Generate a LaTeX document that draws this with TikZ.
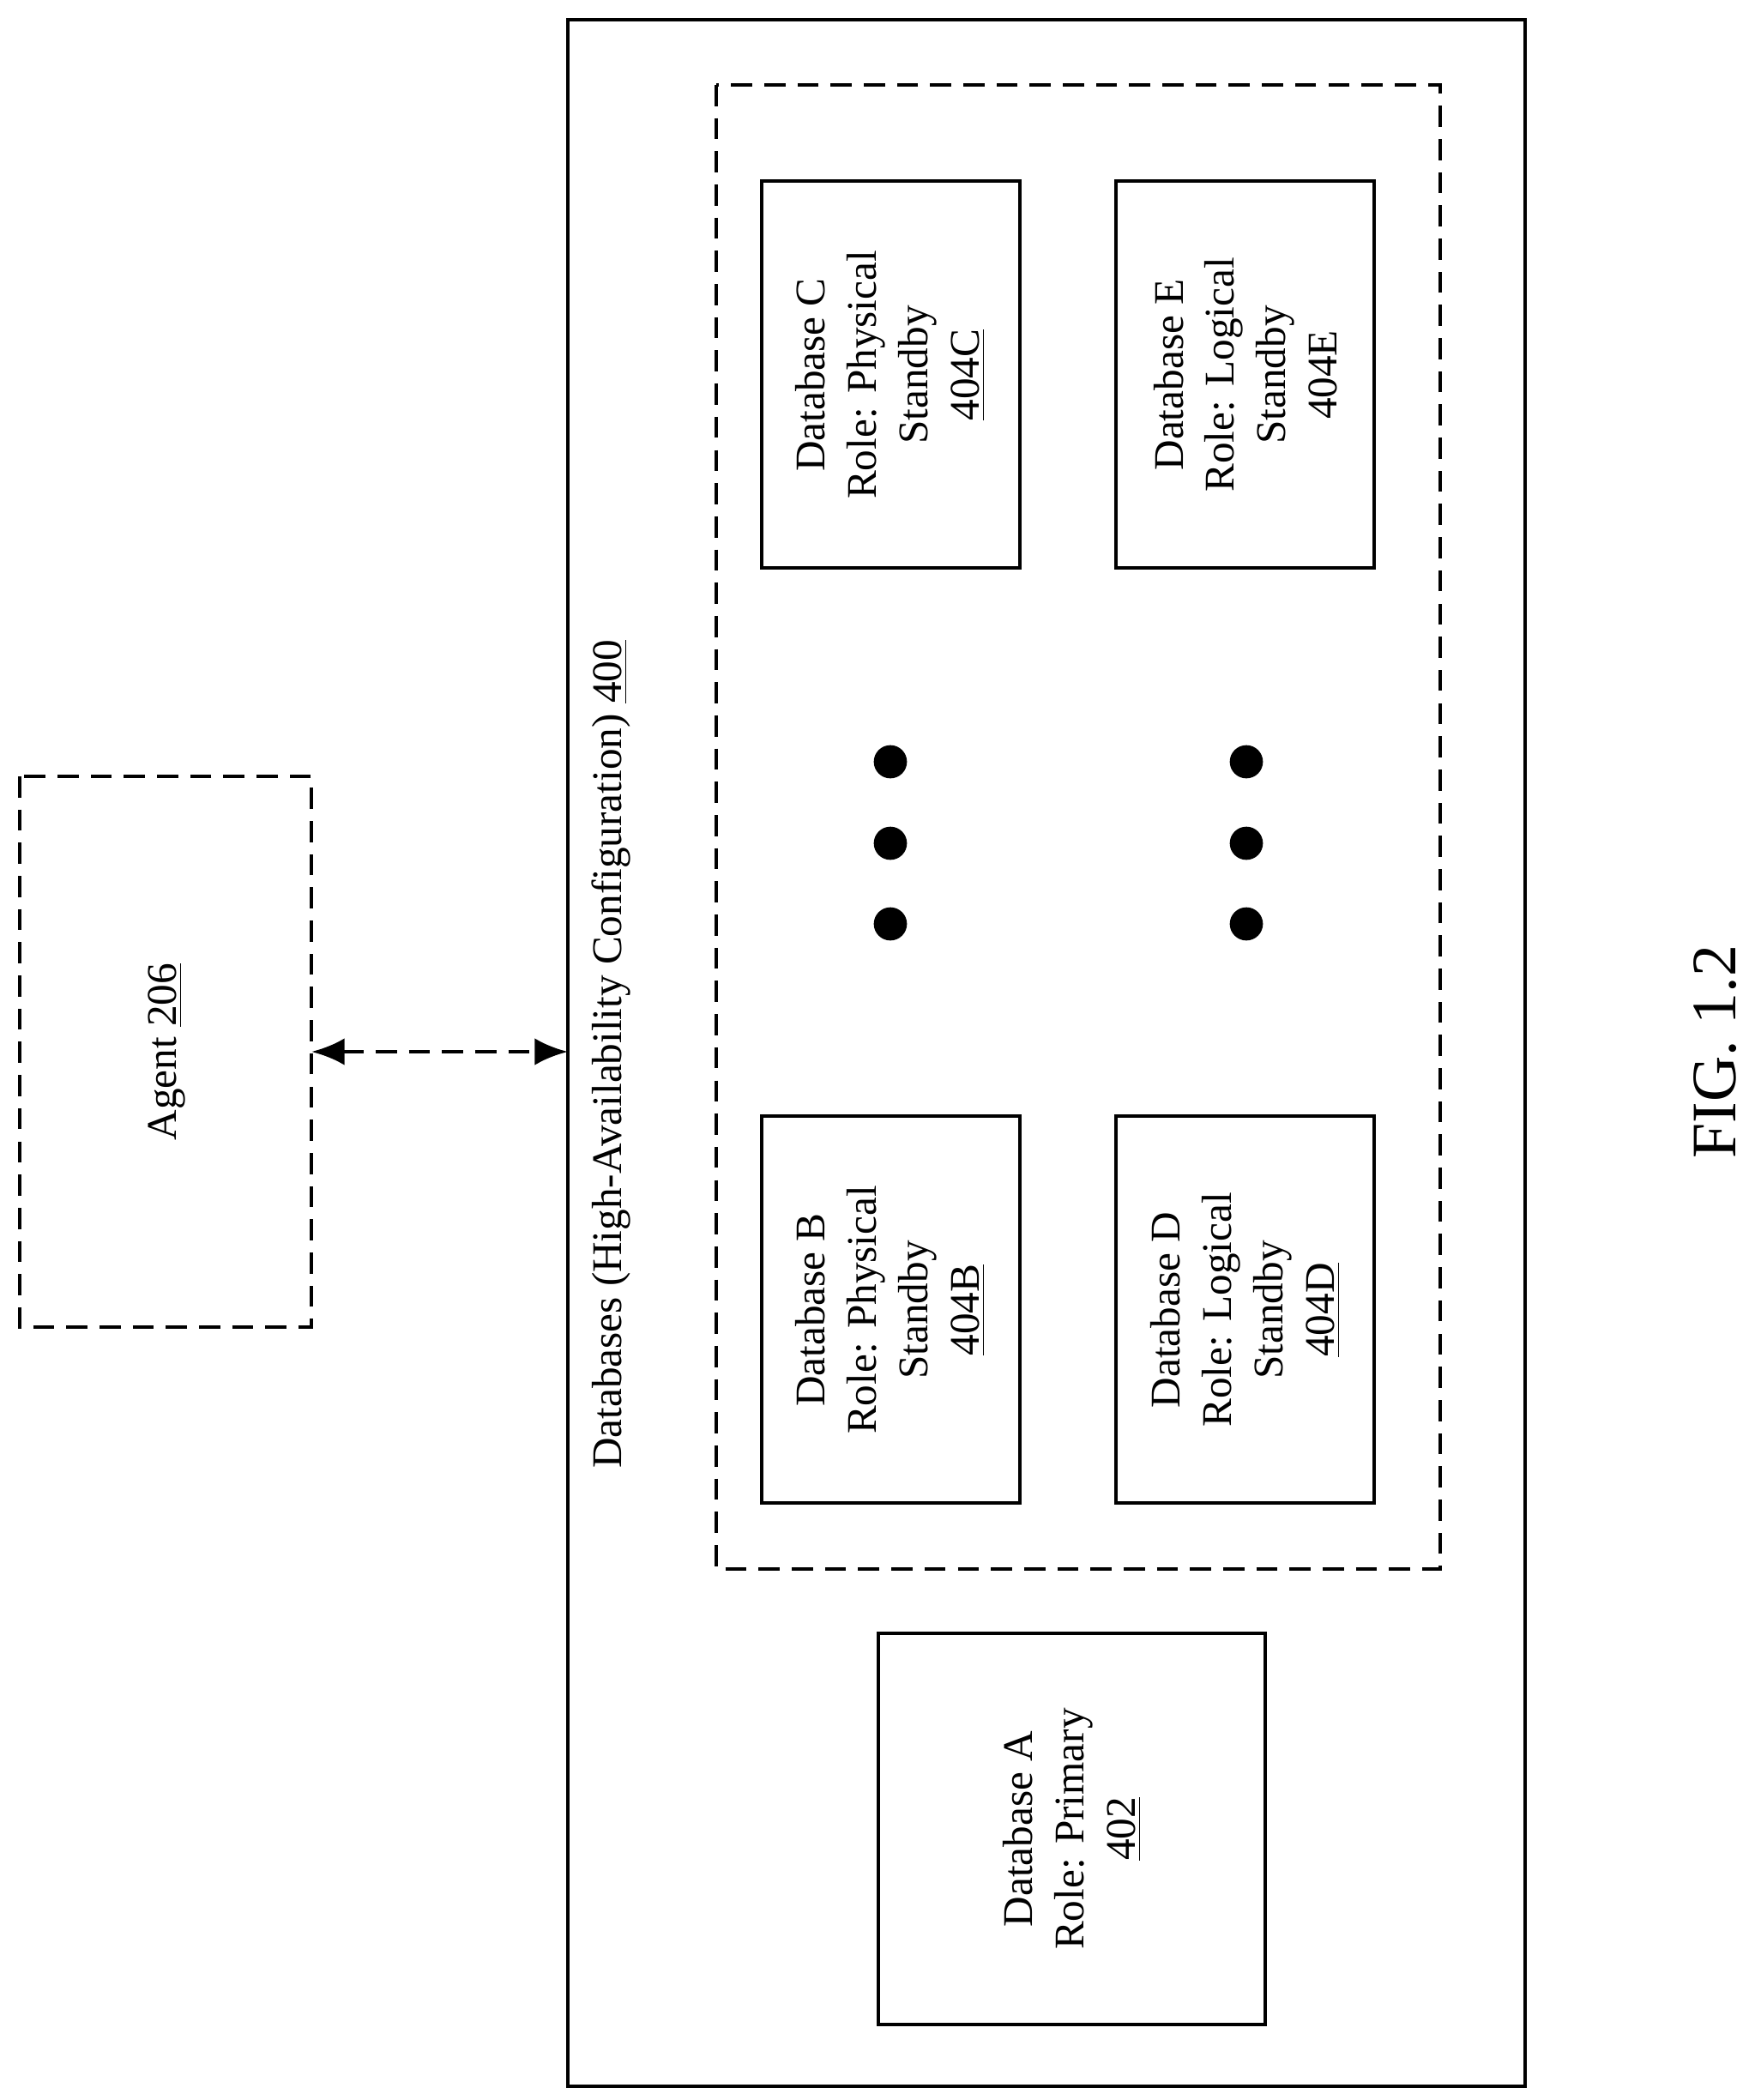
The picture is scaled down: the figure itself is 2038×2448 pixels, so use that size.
\documentclass[tikz,border=0pt]{standalone}
\usepackage{fontspec}
\setmainfont{Liberation Serif}
\usetikzlibrary{arrows.meta}
\begin{document}
\begin{tikzpicture}[x=0.01cm,y=-0.01cm,
  box/.style={draw,line width=1.4pt},
  dbox/.style={draw,line width=1.4pt,dash pattern=on 7pt off 4pt},
  lbl/.style={rotate=90,align=center,font=\fontsize{14}{17}\selectfont},
  dot/.style={circle,fill=black,minimum size=11pt,inner sep=0pt}]
\useasboundingbox (0,0) rectangle (2038,2448);
\draw[box] (662,23) rectangle (1778,2432);
\draw[dbox] (835,99) rectangle (1679,1829);
\draw[dbox] (23,905) rectangle (363,1547);
\node[lbl] (agent) at (194,1226) {Agent \underline{206}};
\coordinate (al) at (363,1226);
\coordinate (ar) at (662,1226);
\draw[line width=1.4pt,dash pattern=on 7pt off 4pt,{Latex[length=11pt,width=9pt]}-{Latex[length=11pt,width=9pt]}] (al) -- (ar);
\node[lbl] (title) at (712,1229) {Databases (High-Availability Configuration) \underline{400}};
\draw[box] (888,211) rectangle (1189,662);
\node[lbl] (c) at (1038,437) {Database C\\Role: Physical\\Standby\\\underline{404C}};
\draw[box] (1301,211) rectangle (1602,662);
\node[lbl] (e) at (1452,437) {Database E\\Role: Logical\\Standby\\404E};
\draw[box] (888,1301) rectangle (1189,1752);
\node[lbl] (b) at (1038,1527) {Database B\\Role: Physical\\Standby\\\underline{404B}};
\draw[box] (1301,1301) rectangle (1602,1752);
\node[lbl] (d) at (1452,1527) {Database D\\Role: Logical\\Standby\\\underline{404D}};
\draw[box] (1024,1904) rectangle (1475,2360);
\node[lbl] (a) at (1250,2132) {Database A\\Role: Primary\\\underline{402}};
\foreach \yy [count=\i] in {888,983,1077}{
  \node[dot] (l\i) at (1038,\yy) {};
  \node[dot] (r\i) at (1453,\yy) {};
}
\node[rotate=90,font=\fontsize{21}{25}\selectfont] (fig) at (2000,1226) {FIG. 1.2};
\end{tikzpicture}
\end{document}
